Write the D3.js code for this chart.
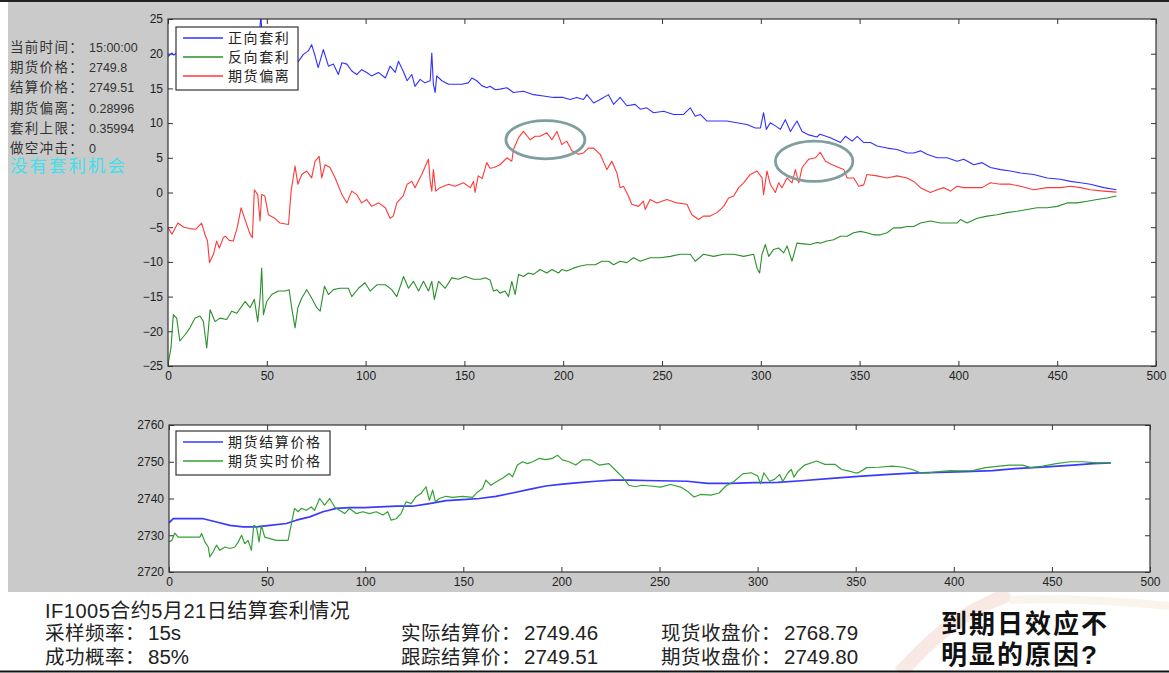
<!DOCTYPE html>
<html>
<head>
<meta charset="utf-8">
<script src="https://cdn.jsdelivr.net/npm/d3@7"></script>
<style>
  body { margin: 0; background: #fff; }
  svg { display: block; }
  text { font-family: "Liberation Sans", Arial, "Noto Sans CJK SC", sans-serif; }
  .axis .tick text { font-size: 12px; fill: #222; }
  .axis .tick line { stroke: #333; }
  .axis .domain { display: none; }
</style>
</head>
<body>
<svg id="chart"></svg>
<script>
// ── DATA ──────────────────────────────────────────────────────────────────
const xTicks = [0, 50, 100, 150, 200, 250, 300, 350, 400, 450, 500];
const yTicksTop = [-25, -20, -15, -10, -5, 0, 5, 10, 15, 20, 25];
const yTicksBottom = [2720, 2730, 2740, 2750, 2760];

const topSeriesNames = ["正向套利", "反向套利", "期货偏离"];
const bottomSeriesNames = ["期货结算价格", "期货实时价格"];

// 正向套利 [sample, value]
const forwardArb = [
  [0,19.6],[2,20.1],[3,19.8],[6,20.6],[10,21.2],[14,20.7],[18,21.6],[22,21.0],[26,21.8],[30,21.3],
  [34,22.0],[38,21.4],[42,22.3],[46,21.7],[47,25.6],[48,20.6],[50,21.5],[54,20.9],[58,20.3],[62,19.8],
  [64,19.0],[66,18.9],[68.5,19.9],[71,20.4],[72.7,21.3],[74.4,19.7],[76,18.0],[78.6,20.6],[81.2,18.2],[83.7,18.5],
  [86.2,17.0],[88,18.7],[90.5,18.5],[93,17.5],[95.5,17.0],[98,17.7],[100.6,17.3],[103,16.8],[106.5,17.3],[110,16.5],
  [112.4,18.2],[115,17.3],[116.6,18.9],[119,17.5],[121,16.1],[123.4,17.0],[125,15.3],[127.6,16.3],[130,15.8],[132.7,16.1],
  [133.5,20.1],[134.3,15.6],[135.2,14.4],[136,16.8],[138.6,16.1],[142,15.6],[145.3,15.6],[148.7,15.6],[152,15.8],[153.8,16.5],
  [156.3,16.1],[158.8,15.4],[161.3,15.1],[163,15.3],[165.6,14.8],[168,14.9],[171.5,15.1],[174.8,14.4],[179.9,14.6],[185,14.1],
  [190,13.9],[195,13.7],[200,13.7],[203.5,13.4],[206.8,13.7],[210.3,13.4],[212,14.1],[215.4,12.9],[218.7,13.4],[222.9,14.1],
  [225.5,12.7],[228.8,13.7],[232.2,12.5],[236.4,12.7],[239,12.0],[242.3,12.2],[245.7,11.5],[250.8,11.7],[255.9,11.25],[260.9,11.25],
  [264.3,12.2],[266.8,11.0],[269.4,11.25],[272.7,10.3],[277.8,10.3],[282.8,10.3],[287.9,10.05],[293,9.8],[297.2,9.3],[299.8,9.3],
  [301.4,11.5],[302.8,9.1],[304.8,10.05],[307.4,9.6],[309.9,9.1],[312.4,10.5],[315,8.8],[318.3,10.3],[320.9,8.8],[324.3,8.3],
  [328.4,8.0],[330,8.4],[335.2,7.9],[340.3,7.2],[342.8,8.1],[346.2,7.4],[348.8,8.1],[352.1,7.2],[355.5,7.2],[358.8,6.7],
  [363.9,6.4],[368.9,6.2],[374,5.7],[377.4,5.7],[380.8,6.0],[384.1,5.5],[389.2,5.0],[394.3,5.0],[399.3,4.5],[402.7,4.8],
  [407.8,4.0],[412,4.3],[416.2,3.6],[421.3,3.3],[426.3,3.1],[431.4,2.8],[438.1,2.6],[444.9,2.1],[451.6,1.9],[456.7,1.6],
  [461.8,1.4],[466.8,1.2],[473.6,0.7],[480,0.4]
];

// 反向套利
const reverseArb = [
  [0,-24.8],[1.5,-22.4],[2.7,-17.6],[4.4,-18.1],[6,-21.4],[8.6,-20.5],[11.1,-19.5],[13.7,-18.1],[16.2,-17.8],[17.9,-18.6],
  [19.6,-22.4],[21.3,-16.9],[23.8,-18.6],[26.3,-18.1],[29.7,-18.3],[32.2,-17.1],[34.8,-17.4],[37.3,-16.4],[39,-15.7],[41.5,-16.6],
  [43.7,-15.4],[45.4,-18.6],[46.6,-15.2],[47.4,-10.9],[48.3,-17.6],[50,-15.7],[52.5,-14.7],[55.9,-14.2],[59.2,-14.2],[61.3,-14.0],
  [62.6,-16.6],[64.3,-19.5],[65.7,-16.6],[67.7,-15.2],[70.2,-14.0],[72.7,-15.2],[75.3,-16.6],[77,-17.1],[79.2,-13.5],[81.2,-14.7],
  [83.7,-14.0],[87,-13.8],[91.3,-13.8],[93,-15.0],[96.4,-13.8],[99.7,-13.0],[102.3,-14.2],[105.7,-13.3],[110,-13.3],[113.2,-14.0],
  [115.8,-15.0],[119.2,-12.1],[121.7,-13.8],[124.2,-12.8],[126.8,-14.2],[129.3,-12.8],[131.8,-14.2],[133.5,-12.8],[134.8,-15.4],[136.9,-12.8],
  [140.3,-13.8],[143.6,-12.3],[147,-12.5],[150.4,-12.1],[154.6,-12.5],[158,-12.5],[160.5,-12.3],[163,-12.6],[164.7,-14.2],[166.4,-14.0],
  [168,-14.5],[170.6,-14.2],[172.3,-15.0],[174,-12.8],[175.7,-14.7],[177.4,-11.8],[179.9,-12.1],[182.4,-11.6],[185,-11.8],[188.3,-11.1],
  [191.7,-11.6],[194.3,-11.1],[197.6,-11.6],[199.3,-11.1],[201.8,-11.3],[205.2,-10.9],[208.6,-10.6],[212,-10.4],[216.2,-10.4],[219.6,-9.9],
  [223,-9.9],[225.5,-10.4],[228.8,-9.9],[232.2,-10.1],[235.6,-9.4],[239,-9.9],[244,-9.4],[249.1,-9.4],[254.2,-9.2],[259.2,-8.9],
  [264.3,-8.9],[266.8,-9.9],[271,-8.9],[276.1,-9.2],[281.2,-8.9],[286.3,-8.9],[291.3,-9.2],[296.4,-8.9],[298.1,-10.9],[299.4,-11.6],
  [300.6,-8.9],[302.3,-7.5],[304,-9.2],[306.5,-8.2],[309,-8.0],[311.6,-8.7],[313.3,-7.7],[315.8,-9.9],[318.3,-7.3],[321.7,-7.4],
  [325,-7.5],[328.4,-7.2],[330.1,-7.3],[333.5,-7.0],[336.9,-6.8],[340.3,-6.3],[343.7,-6.3],[347,-5.8],[350.4,-5.6],[353.7,-5.8],
  [357.1,-6.1],[360.5,-6.1],[363.9,-5.8],[367.2,-5.1],[370.6,-5.1],[374,-4.9],[377.4,-4.9],[380.8,-4.4],[385.8,-4.1],[390.9,-4.4],
  [396,-4.4],[399.3,-4.4],[401,-3.9],[404.4,-4.4],[409.5,-3.7],[414.5,-3.4],[419.6,-3.2],[424.6,-2.9],[429.7,-2.7],[434.8,-2.45],
  [439.8,-2.2],[444.9,-2.2],[450,-2.0],[455,-1.5],[460.1,-1.5],[465.2,-1.25],[470.2,-1.0],[475.3,-0.8],[480,-0.5]
];

// 期货偏离
const deviation = [
  [0,-5.1],[2,-6.0],[5,-4.4],[8,-5.0],[11,-5.2],[14,-5.3],[17,-4.4],[19,-6.3],[20,-7.0],[21,-10.1],
  [23,-8.9],[24.6,-7.0],[26,-8.0],[28,-6.5],[29,-6.3],[31,-6.9],[33,-7.0],[35,-5.1],[37,-2.2],[39,-3.9],
  [41.5,-6.0],[42.7,-6.5],[43.7,0.4],[45.4,-0.3],[46.6,-4.1],[47.4,-0.3],[49,-0.5],[50.8,-3.2],[54,-3.7],[56.7,-4.4],
  [61,-4.6],[62.3,0.2],[64.3,3.8],[65.7,1.2],[67.7,2.6],[70.2,3.1],[72.7,2.1],[74.4,4.5],[76.5,5.2],[77.8,2.1],
  [79.5,4.0],[82,3.6],[84.6,2.1],[88,-0.3],[90.5,-1.5],[93,0.2],[95.5,-0.3],[98,-1.5],[100.6,-1.0],[103,-2.0],
  [106.5,-1.5],[110,-2.2],[112.4,-3.7],[114,-3.4],[115.8,-1.5],[119,-0.5],[121,1.2],[123.4,1.6],[125,0.7],[128.4,2.6],
  [131.8,4.8],[132.7,1.6],[133.5,0.2],[134.3,3.3],[135.5,0.2],[137.7,0.7],[142,1.2],[145.3,0.9],[149.5,1.4],[153,0.7],
  [154.6,1.6],[155.4,0.0],[157,2.4],[159,2.0],[161.3,4.3],[163,3.5],[165,3.6],[168,4.0],[171.5,5.0],[174,4.5],
  [174.8,6.2],[177.4,7.9],[179.9,8.8],[183.3,7.6],[185.8,8.1],[188.3,8.1],[191.7,8.6],[194.3,7.6],[196.8,8.8],[199.3,6.9],
  [201.8,7.4],[204.4,6.0],[207.8,5.5],[210.3,5.7],[212.8,6.4],[215.4,6.4],[218.7,5.5],[222.1,3.3],[224.6,4.5],[227.2,2.8],
  [228.8,0.7],[230.5,0.9],[233,-0.5],[234.7,-1.7],[238.1,-2.0],[240.6,-1.25],[241.5,-2.45],[244,-1.0],[247.4,-1.5],[252.5,-1.0],
  [257.5,-1.5],[262.6,-1.7],[265.1,-3.2],[268.5,-3.9],[271,-3.4],[274.4,-3.4],[277.8,-2.9],[281.2,-2.0],[283.7,-0.8],[286.3,-0.5],
  [288.8,0.7],[291.3,1.4],[294.7,2.6],[298.1,3.1],[300.6,2.1],[301.4,-0.3],[303.1,3.1],[304.8,1.2],[307.4,0.0],[309,1.4],
  [310.7,0.7],[313.3,2.1],[315.8,1.4],[317.5,3.3],[319.2,1.4],[320.9,3.6],[324.3,4.8],[327.6,5.0],[330.1,5.8],[332.7,4.5],
  [336.1,4.0],[339.4,3.6],[342,3.3],[343.7,2.1],[347,2.1],[349.6,0.9],[352.1,1.1],[353.7,2.6],[358.8,2.4],[363.9,2.1],
  [368.9,2.4],[374,2.1],[377.4,1.6],[380.8,0.7],[385.8,0.0],[389.2,0.4],[392.6,0.7],[396,0.2],[399.3,0.9],[402.7,0.7],
  [407.8,0.7],[412,0.7],[416.2,1.4],[421.3,1.2],[426.3,1.2],[431.4,0.9],[438.1,0.4],[444.9,0.7],[451.6,0.7],[456.7,0.9],
  [461.8,0.7],[466.8,0.4],[473.6,0.2],[480,0.05]
];

// 期货结算价格
const settlePrice = [
  [0,2733.4],[2.2,2734.5],[7.3,2734.5],[17.5,2734.5],[24.2,2733.6],[31,2732.7],[37.8,2732.3],[44.6,2732.3],[51.4,2732.7],[59.8,2733.2],
  [64.9,2734.1],[71.7,2735.0],[78.5,2736.4],[85.3,2737.3],[92,2737.5],[99.7,2737.5],[107.3,2737.7],[115.8,2737.9],[124.2,2737.9],[132.7,2738.6],
  [141.2,2739.4],[149.7,2739.7],[158.1,2740.0],[166.6,2740.6],[175.1,2741.5],[183.6,2742.5],[192,2743.4],[200.5,2743.9],[209,2744.3],[217.5,2744.7],
  [225.9,2745.0],[234.4,2745.0],[242.9,2744.9],[264.2,2744.7],[274.4,2744.1],[286.4,2744.1],[298.4,2744.3],[310.3,2744.4],[324,2744.9],[337.7,2745.5],
  [351.4,2746.0],[365,2746.5],[378.7,2746.9],[392.4,2747.1],[406,2747.3],[419.7,2747.6],[433.4,2748.2],[447.1,2748.6],[460.8,2749.1],[471,2749.5],
  [480,2749.7]
];

// 期货实时价格
const livePrice = [
  [0,2728.2],[1.4,2728.6],[3,2730.6],[4.7,2729.5],[7.3,2729.5],[15.8,2729.5],[16.6,2730.5],[18.3,2728.2],[20,2726.8],[20.8,2724.1],
  [22.5,2725.5],[24.2,2727.3],[25.9,2725.9],[28.5,2726.8],[31,2726.4],[33.6,2726.8],[35.3,2728.2],[37,2730.0],[38.6,2727.7],[40.3,2728.6],
  [42,2725.9],[43.2,2732.7],[44.6,2732.3],[45.9,2728.2],[47.1,2732.7],[48.8,2729.5],[51.4,2729.1],[54.7,2728.6],[60.7,2728.6],[62.4,2733.2],
  [64,2737.3],[65.8,2736.4],[67.5,2737.3],[70,2736.8],[72.5,2737.7],[74.2,2736.8],[76.8,2740.0],[79.3,2738.2],[81.9,2740.0],[84.4,2737.7],
  [86.9,2736.8],[89.5,2735.9],[92,2737.3],[95.4,2735.9],[98.8,2736.4],[102.2,2735.9],[105.6,2736.4],[109,2735.5],[111.5,2736.4],[113.2,2734.1],
  [115.8,2734.5],[118.3,2735.9],[120.8,2739.1],[123.4,2738.6],[125.9,2740.5],[128.5,2741.4],[131,2743.2],[132.7,2739.5],[134.4,2742.3],[135.8,2739.1],
  [137.8,2740.0],[141.2,2740.6],[144.6,2740.3],[149.7,2740.6],[154.7,2740.3],[157.3,2741.8],[159.8,2742.7],[161.5,2745.0],[164.1,2743.6],[166.6,2744.5],
  [170,2745.5],[173.4,2746.8],[175.1,2745.9],[177.6,2749.1],[180.2,2750.0],[182.7,2749.5],[185.3,2750.0],[188.6,2750.9],[192,2750.6],[195.4,2750.9],
  [198,2751.8],[200.5,2750.5],[203.9,2750.0],[207.3,2749.1],[210.7,2750.5],[214.9,2750.5],[219.2,2749.1],[224.2,2749.5],[227.6,2747.7],[231,2745.9],
  [234.4,2743.6],[237.8,2743.2],[241.2,2743.6],[245.4,2743.4],[250.5,2743.1],[255.6,2743.8],[260.8,2743.1],[264.2,2742.0],[267.6,2740.4],[271,2741.1],
  [276.2,2740.9],[280.4,2741.5],[283.8,2743.4],[288.1,2744.7],[292.4,2746.7],[296.7,2747.0],[300.1,2746.1],[301.5,2744.0],[303.2,2747.0],[306.1,2744.7],
  [308.6,2745.2],[311.2,2746.5],[312.9,2744.7],[315.5,2747.0],[317.2,2747.9],[318.5,2745.8],[320.6,2747.5],[324,2749.1],[330,2750.2],[334.3,2749.3],
  [339.4,2749.3],[342.8,2747.9],[346.2,2747.5],[349.7,2747.0],[351.4,2747.0],[355.6,2748.4],[361.6,2748.5],[368.5,2748.8],[374.4,2748.5],[378.7,2747.9],
  [383,2747.0],[387.3,2747.0],[392.4,2747.3],[398.4,2747.6],[402.6,2747.5],[409.5,2747.6],[416.3,2748.4],[423.2,2748.8],[428.3,2749.1],[435.1,2749.1],
  [439.4,2748.4],[445.4,2748.8],[452.2,2749.5],[459.1,2750.0],[465.9,2750.0],[472.7,2749.7],[480,2749.7]
];

// anotasi elips (pusat dan jari-jari dalam satuan data)
const circled = [
  { x: 191, y: 7.6, rx: 20, ry: 2.75 },
  { x: 327, y: 4.5, rx: 19.6, ry: 2.9 }
];

const infoLabels = ["当前时间：", "期货价格：", "结算价格：", "期货偏离：", "套利上限：", "做空冲击："];
const infoValues = ["15:00:00", "2749.8", "2749.51", "0.28996", "0.35994", "0"];
const statusText = "没有套利机会";

const footTitle = "IF1005合约5月21日结算套利情况";
const footLabels = [["采样频率：", "成功概率："], ["实际结算价：", "跟踪结算价："], ["现货收盘价：", "期货收盘价："]];
const footValues = [["15s", "85%"], ["2749.46", "2749.51"], ["2768.79", "2749.80"]];
const remark = ["到期日效应不", "明显的原因?"];

// ── DIMENSI ───────────────────────────────────────────────────────────────
const W = 1169, H = 673;
const TOP = { left: 168, right: 1156, top: 19, bottom: 366 };
const BOT = { left: 169, right: 1150, top: 425, bottom: 572 };
const COLORS = { blue: "#3030ff", green: "#2a8f2a", red: "#ff3838", blue2: "#3a3aff", green2: "#35a035" };

const svg = d3.select("#chart")
  .attr("width", W)
  .attr("height", H)
  .attr("viewBox", `0 0 ${W} ${H}`);

// ── LATAR ─────────────────────────────────────────────────────────────────
const wm = svg.append("g").attr("opacity", 0.35);
wm.append("path")
  .attr("d", "M900,673 C930,640 960,612 1010,594")
  .attr("fill", "none").attr("stroke", "#efc2b4").attr("stroke-width", 14);
wm.append("path")
  .attr("d", "M1010,600 C1060,598 1110,600 1169,606")
  .attr("fill", "none").attr("stroke", "#f6e0c8").attr("stroke-width", 8);

svg.append("rect").attr("x", 8).attr("y", 2).attr("width", W - 8).attr("height", 590).attr("fill", "#cacaca");
svg.append("line").attr("x1", 0).attr("x2", W).attr("y1", 1).attr("y2", 1).attr("stroke", "#222").attr("stroke-width", 2);
svg.append("line").attr("x1", 0).attr("x2", W).attr("y1", 671.5).attr("y2", 671.5).attr("stroke", "#111").attr("stroke-width", 2);

// ── SKALA ─────────────────────────────────────────────────────────────────
const xTop = d3.scaleLinear().domain([0, 500]).range([TOP.left, TOP.right]);
const yTop = d3.scaleLinear().domain([-25, 25]).range([TOP.bottom, TOP.top]);
const xBot = d3.scaleLinear().domain([0, 500]).range([BOT.left, BOT.right]);
const yBot = d3.scaleLinear().domain([2720, 2760]).range([BOT.bottom, BOT.top]);

function drawAxes(box, xs, ys, yt, id) {
  svg.append("rect")
    .attr("x", box.left).attr("y", box.top)
    .attr("width", box.right - box.left).attr("height", box.bottom - box.top)
    .attr("fill", "#fff");

  svg.append("clipPath").attr("id", id)
    .append("rect")
    .attr("x", box.left).attr("y", box.top)
    .attr("width", box.right - box.left).attr("height", box.bottom - box.top);

  svg.append("g").attr("class", "axis")
    .attr("transform", `translate(0,${box.bottom})`)
    .call(d3.axisBottom(xs).tickValues(xTicks).tickSizeInner(-5).tickSizeOuter(0).tickPadding(5).tickFormat(d3.format("d")));
  svg.append("g").attr("class", "axis")
    .attr("transform", `translate(0,${box.top})`)
    .call(d3.axisTop(xs).tickValues(xTicks).tickSizeInner(-5).tickSizeOuter(0).tickFormat(""));
  svg.append("g").attr("class", "axis")
    .attr("transform", `translate(${box.left},0)`)
    .call(d3.axisLeft(ys).tickValues(yt).tickSizeInner(-5).tickSizeOuter(0).tickPadding(5).tickFormat(d3.format("d")));
  svg.append("g").attr("class", "axis")
    .attr("transform", `translate(${box.right},0)`)
    .call(d3.axisRight(ys).tickValues(yt).tickSizeInner(-5).tickSizeOuter(0).tickFormat(""));
}

function drawFrame(box) {
  svg.append("rect")
    .attr("x", box.left).attr("y", box.top)
    .attr("width", box.right - box.left).attr("height", box.bottom - box.top)
    .attr("fill", "none").attr("stroke", "#333").attr("stroke-width", 1.2);
}

function drawLine(data, xs, ys, color, width, clipId) {
  svg.append("path")
    .datum(data)
    .attr("clip-path", `url(#${clipId})`)
    .attr("fill", "none")
    .attr("stroke", color)
    .attr("stroke-width", width)
    .attr("stroke-linejoin", "round")
    .attr("d", d3.line().x(d => xs(d[0])).y(d => ys(d[1])));
}

function drawLegend(x, y, w, rowH, names, colors) {
  const g = svg.append("g").attr("transform", `translate(${x},${y})`);
  g.append("rect")
    .attr("width", w).attr("height", rowH * names.length + 6)
    .attr("fill", "#fff").attr("stroke", "#333").attr("stroke-width", 1.2);
  names.forEach((n, i) => {
    const cy = 11 + i * rowH;
    g.append("line").attr("x1", 7).attr("x2", 47).attr("y1", cy).attr("y2", cy)
      .attr("stroke", colors[i]).attr("stroke-width", 1.4);
    g.append("text")
      .attr("x", 52).attr("y", cy).attr("dy", "0.36em")
      .attr("font-size", 14).attr("letter-spacing", 1.6).attr("fill", "#222")
      .text(n);
  });
}

// ── GRAFIK ATAS ───────────────────────────────────────────────────────────
drawAxes(TOP, xTop, yTop, yTicksTop, "clipTop");
drawLine(forwardArb, xTop, yTop, COLORS.blue, 1.1, "clipTop");
drawLine(reverseArb, xTop, yTop, COLORS.green, 1.1, "clipTop");
drawLine(deviation, xTop, yTop, COLORS.red, 1.1, "clipTop");

svg.selectAll(".mark")
  .data(circled)
  .join("ellipse")
  .attr("class", "mark")
  .attr("cx", d => xTop(d.x))
  .attr("cy", d => yTop(d.y))
  .attr("rx", d => xTop(d.x + d.rx) - xTop(d.x))
  .attr("ry", d => yTop(d.y - d.ry) - yTop(d.y))
  .attr("fill", "none")
  .attr("stroke", "#7f9e9e")
  .attr("stroke-width", 2.8);

drawFrame(TOP);
drawLegend(176, 27, 122, 19, topSeriesNames, [COLORS.blue, COLORS.green, COLORS.red]);

// ── GRAFIK BAWAH ──────────────────────────────────────────────────────────
drawAxes(BOT, xBot, yBot, yTicksBottom, "clipBot");
drawLine(settlePrice, xBot, yBot, COLORS.blue2, 1.7, "clipBot");
drawLine(livePrice, xBot, yBot, COLORS.green2, 1.2, "clipBot");
drawFrame(BOT);
drawLegend(176, 431, 154, 19, bottomSeriesNames, [COLORS.blue2, COLORS.green2]);

// ── PANEL INFO KIRI ───────────────────────────────────────────────────────
infoLabels.forEach((lab, i) => {
  const t = svg.append("text")
    .attr("x", 10).attr("y", 46 + i * 20.3).attr("dy", "0.36em")
    .attr("fill", "#333");
  t.append("tspan").attr("font-size", 13.5).attr("letter-spacing", 1.3).text(lab);
  t.append("tspan").attr("x", 89).attr("font-size", 12.5).text(infoValues[i]);
});
svg.append("text")
  .attr("x", 10).attr("y", 166).attr("dy", "0.36em")
  .attr("font-size", 17.5).attr("letter-spacing", 2).attr("fill", "#3fe0ea")
  .text(statusText);

// ── TEKS BAWAH ────────────────────────────────────────────────────────────
svg.append("text")
  .attr("x", 45).attr("y", 611).attr("dy", "0.36em")
  .attr("font-size", 20).attr("letter-spacing", 0.5).attr("fill", "#222")
  .text(footTitle);

const colX = [45, 401, 661];
footLabels.forEach((col, c) => {
  col.forEach((lab, r) => {
    const t = svg.append("text")
      .attr("x", colX[c]).attr("y", 634.5 + r * 24).attr("dy", "0.36em")
      .attr("fill", "#222");
    t.append("tspan").attr("font-size", 19.5).attr("letter-spacing", 0.5).text(lab);
    t.append("tspan").attr("font-size", 20.5).attr("dx", 3).text(footValues[c][r]);
  });
});

remark.forEach((line, i) => {
  svg.append("text")
    .attr("x", 941).attr("y", 624 + i * 31).attr("dy", "0.36em")
    .attr("font-size", 26).attr("font-weight", "bold").attr("letter-spacing", 2)
    .attr("fill", "#111")
    .text(line);
});
</script>
</body>
</html>
